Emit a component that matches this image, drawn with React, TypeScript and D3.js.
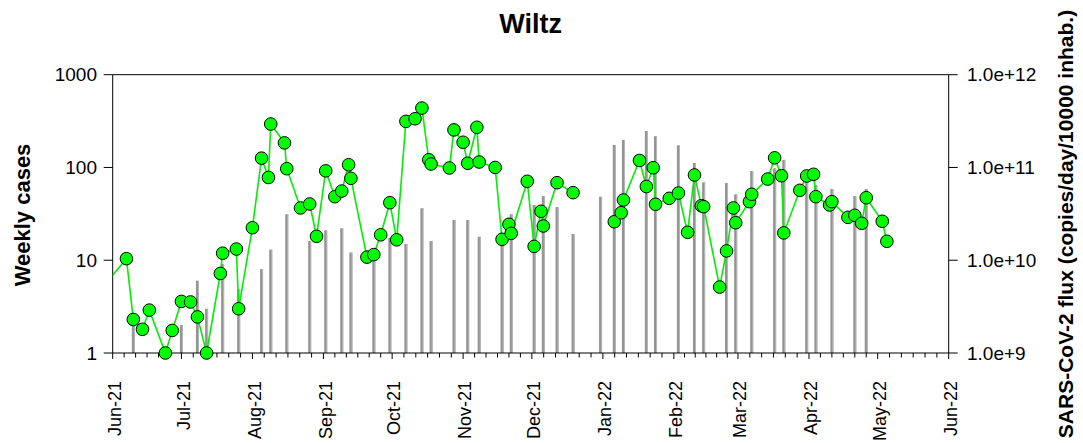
import React from "react";
import * as d3 from "d3";

const caseDates = [
  "2021-05-25","2021-06-07","2021-06-10","2021-06-14","2021-06-17","2021-06-24","2021-06-27",
  "2021-07-01","2021-07-05","2021-07-08","2021-07-12","2021-07-18","2021-07-19","2021-07-25","2021-07-26",
  "2021-08-01","2021-08-05","2021-08-08","2021-08-09","2021-08-15","2021-08-16","2021-08-22","2021-08-26","2021-08-29",
  "2021-09-02","2021-09-06","2021-09-09","2021-09-12","2021-09-13","2021-09-20","2021-09-23","2021-09-26","2021-09-30",
  "2021-10-03","2021-10-07","2021-10-11","2021-10-14","2021-10-17","2021-10-18","2021-10-26","2021-10-28",
  "2021-11-01","2021-11-03","2021-11-07","2021-11-08","2021-11-15","2021-11-18","2021-11-21","2021-11-22","2021-11-29",
  "2021-12-02","2021-12-05","2021-12-06","2021-12-12","2021-12-19","2021-12-28",
  "2022-01-06","2022-01-09","2022-01-10","2022-01-17","2022-01-20","2022-01-23","2022-01-24","2022-01-30",
  "2022-02-03","2022-02-07","2022-02-10","2022-02-13","2022-02-14","2022-02-21","2022-02-24","2022-02-27","2022-02-28",
  "2022-03-06","2022-03-07","2022-03-14","2022-03-17","2022-03-20","2022-03-21","2022-03-28","2022-03-31",
  "2022-04-03","2022-04-04","2022-04-10","2022-04-11","2022-04-18","2022-04-21","2022-04-24","2022-04-26",
  "2022-05-03","2022-05-05"
];
const weeklyCases: (number | null)[] = [
  4.3, 10.4, 2.3, 1.8, 2.9, 1, 1.75,
  3.6, 3.55, 2.45, 1, 7.2, 11.9, 13.2, 3,
  22.4, 126, 78, 294, 184, 97, 36.6, 40.4, 18.1,
  92, 48.4, 55.7, 107, 76.4, 10.8, 11.5, 18.8, 41.7,
  16.6, 314, 335, 437, 121, 109, 98.7, 254,
  187, 111, 271, 114.5, 100, 16.8, 24.4, 19.5, 71,
  14.1, 33.7, 23.4, 68.5, 53.5, null,
  26, 32.5, 44.6, 119, 62.3, 99.4, 40.1, 46.5,
  53, 20, 83, 38.7, 37.8, 5.14, 12.6, 36.6, 25.4,
  42.8, 51.4, 75, 127, 81.5, 19.7, 56.7, 81,
  84.4, 48.4, 39.4, 42.8, 29, 30.5, 25, 47.2,
  26.3, 16
];

const fluxDates = [
  "2021-06-10","2021-07-01","2021-07-08","2021-07-12","2021-07-19","2021-07-26",
  "2021-08-05","2021-08-09","2021-08-16","2021-08-26",
  "2021-09-02","2021-09-09","2021-09-13","2021-09-23","2021-09-30",
  "2021-10-07","2021-10-14","2021-10-18","2021-10-28",
  "2021-11-03","2021-11-08","2021-11-18","2021-11-22",
  "2021-12-02","2021-12-06","2021-12-12","2021-12-19","2021-12-31",
  "2022-01-06","2022-01-10","2022-01-20","2022-01-24",
  "2022-02-03","2022-02-10","2022-02-14","2022-02-24","2022-02-28",
  "2022-03-07","2022-03-17","2022-03-21","2022-03-31",
  "2022-04-04","2022-04-11","2022-04-21","2022-04-26"
];
const fluxValues = [
  2.16e9, 2.0e9, 6.0e9, 3.0e9, 9.1e9, 4.9e9,
  8.0e9, 1.3e10, 3.13e10, 1.61e10,
  2.1e10, 2.21e10, 1.21e10, 1.11e10, 1.74e10,
  1.5e10, 3.63e10, 1.61e10, 2.71e10,
  2.71e10, 1.79e10, 1.53e10, 3.13e10,
  3.94e10, 4.93e10, 3.75e10, 1.92e10, 4.84e10,
  1.75e11, 1.98e11, 2.47e11, 2.17e11,
  1.73e11, 1.12e11, 6.92e10, 6.8e10, 5.14e10,
  9.16e10, 9.8e10, 1.21e11, 9.39e10,
  6.47e10, 5.86e10, 4.93e10, 5.86e10
];

const leftTicks = [1, 10, 100, 1000];
const rightTicks = [1e9, 1e10, 1e11, 1e12];
const rightTickLabels = ["1.0e+9", "1.0e+10", "1.0e+11", "1.0e+12"];

const parse = d3.utcParse("%Y-%m-%d");
const FONT = "Arial, 'Liberation Sans', sans-serif";

export default function App() {
  const W = 1083, H = 443;
  const L = 112.7, R = 948.7, T = 74.7, B = 353;
  const start = parse("2021-06-01")!;
  const end = parse("2022-06-01")!;
  const x = d3.scaleUtc().domain([start, end]).range([L, R]);
  const y = d3.scaleLog().domain([1, 1000]).range([B, T]);
  const y2 = d3.scaleLog().domain([1e9, 1e12]).range([B, T]);

  const pts = caseDates.map((d, i) => ({ date: parse(d)!, v: weeklyCases[i] }));
  const bars = fluxDates.map((d, i) => ({ date: parse(d)!, v: fluxValues[i] }));

  const line = d3
    .line<{ date: Date; v: number | null }>()
    .defined((d) => d.v != null)
    .x((d) => x(d.date))
    .y((d) => y(d.v as number));

  const months = d3.utcMonth.range(start, d3.utcDay.offset(end, 1));
  const minor: number[] = [];
  for (let i = 0; i < months.length - 1; i++) {
    const a = x(months[i]), b = x(months[i + 1]);
    for (let k = 1; k < 6; k++) minor.push(a + ((b - a) * k) / 6);
  }
  const fmt = d3.utcFormat("%b-%y");

  return (
    <svg width={W} height={H} style={{ position: "absolute", left: 0, top: 0 }} fontFamily={FONT}>
      <defs>
        <clipPath id="plotclip">
          <rect x={L} y={0} width={R - L} height={H} />
        </clipPath>
      </defs>
      <rect x={0} y={0} width={W} height={H} fill="#fff" />
      <text x={(L + R) / 2} y={33} textAnchor="middle" fontSize={27} fontWeight="bold">Wiltz</text>

      {/* bars */}
      {bars.map((b, i) => (
        <g key={i}>
          <rect x={x(b.date) - 1.5} y={y2(b.v)} width={3} height={B - y2(b.v)} fill="#939393" />
          <rect x={x(b.date) + 0.5} y={y2(b.v)} width={1} height={B - y2(b.v)} fill="#b8b8b8" />
        </g>
      ))}

      {/* frame */}
      <line x1={L} x2={R} y1={T} y2={T} stroke="#000" strokeWidth={1} />
      <line x1={L} x2={L} y1={T} y2={B} stroke="#000" strokeWidth={1} />
      <line x1={R} x2={R} y1={T} y2={B} stroke="#000" strokeWidth={1} />
      <line x1={L} x2={R} y1={B} y2={B} stroke="#000" strokeWidth={1} />

      {/* left ticks */}
      {leftTicks.map((t) => (
        <g key={t}>
          <line x1={L - 9} x2={L} y1={y(t)} y2={y(t)} stroke="#000" />
          <text x={97} y={y(t)} dy="0.35em" textAnchor="end" fontSize={19}>{t}</text>
        </g>
      ))}
      {/* right ticks */}
      {rightTicks.map((t, i) => (
        <g key={t}>
          <line x1={R} x2={R + 9} y1={y2(t)} y2={y2(t)} stroke="#000" />
          <text x={967} y={y2(t)} dy="0.35em" textAnchor="start" fontSize={19}>{rightTickLabels[i]}</text>
        </g>
      ))}
      {/* bottom ticks */}
      {minor.map((m, i) => (
        <line key={"m" + i} x1={m} x2={m} y1={B} y2={B + 4.5} stroke="#000" />
      ))}
      {months.map((m, i) => (
        <g key={"M" + i}>
          <line x1={x(m)} x2={x(m)} y1={B} y2={B + 6} stroke="#000" />
          <text transform={`translate(${x(m) + 2},381) rotate(-90)`} dy="0.35em" textAnchor="end" fontSize={18}>
            {fmt(m)}
          </text>
        </g>
      ))}

      {/* cases line + points */}
      <path d={line(pts) || ""} fill="none" stroke="#00ee00" strokeWidth={1.6} clipPath="url(#plotclip)" />
      {pts
        .filter((p) => p.v != null && p.date >= start)
        .map((p, i) => (
          <circle key={i} cx={x(p.date)} cy={y(p.v as number)} r={6.3} fill="#00ff00" stroke="#000" strokeWidth={1} />
        ))}

      <text transform={`translate(30,215) rotate(-90)`} textAnchor="middle" fontSize={22} fontWeight="bold">Weekly cases</text>
      <text transform={`translate(1073,224) rotate(-90)`} textAnchor="middle" fontSize={21} fontWeight="bold">
        SARS-CoV-2 flux (copies/day/10000 inhab.)
      </text>
    </svg>
  );
}
